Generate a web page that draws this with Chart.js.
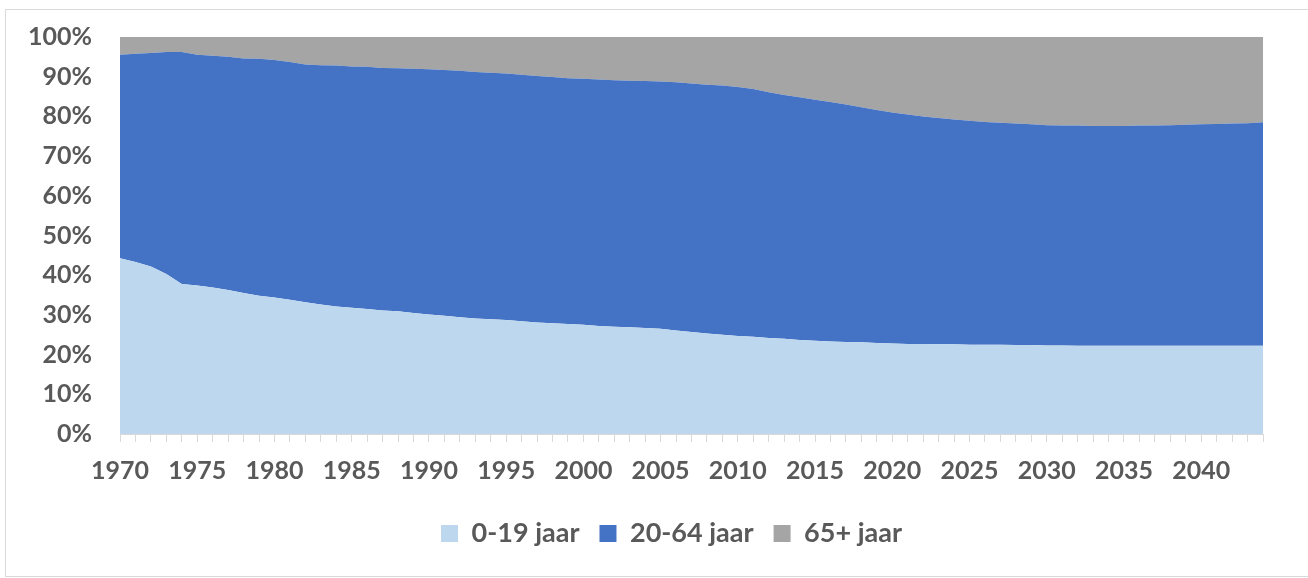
<!DOCTYPE html>
<html>
<head>
<meta charset="utf-8">
<script src="https://cdn.jsdelivr.net/npm/chart.js@4.4.1/dist/chart.umd.min.js"></script>
<style>
	body { margin: 0; background: #ffffff; }
	#frame {
		position: absolute;
		left: 5px;
		top: 9px;
		width: 1310px;
		height: 566px;
		border: 1px solid #d9d9d9;
	}
	#ageChart { position: absolute; left: 0; top: 0; }
</style>
</head>
<body>
<div id="frame"></div>
<canvas id="ageChart" width="1308" height="578"></canvas>
<script>
const years = [];
for (let y = 1970; y <= 2044; y++)
	years.push(String(y));

//share of the population per age group, in %
const young = [
	44.3, 43.3, 42.2, 40.3, 37.8, 37.4, 36.9, 36.3, 35.5, 34.8,
	34.4, 33.8, 33.2, 32.6, 32.1, 31.8, 31.5, 31.1, 30.9, 30.5,
	30.1, 29.8, 29.4, 29.1, 28.9, 28.7, 28.4, 28.1, 27.9, 27.7,
	27.5, 27.2, 27.0, 26.9, 26.7, 26.5, 26.1, 25.7, 25.3, 25.0,
	24.7, 24.5, 24.2, 24.0, 23.7, 23.5, 23.3, 23.2, 23.1, 22.9,
	22.8, 22.7, 22.7, 22.6, 22.6, 22.5, 22.5, 22.5, 22.4, 22.4,
	22.3, 22.3, 22.2, 22.2, 22.2, 22.2, 22.2, 22.2, 22.2, 22.2,
	22.2, 22.2, 22.2, 22.2, 22.2
];
const working = [
	51.2, 52.5, 53.8, 55.9, 58.4, 58.1, 58.4, 58.7, 59.1, 59.7,
	59.8, 59.9, 59.9, 60.3, 60.7, 60.8, 61.0, 61.1, 61.2, 61.5,
	61.8, 61.9, 62.1, 62.1, 62.1, 62.1, 62.1, 62.1, 62.0, 61.9,
	62.0, 62.1, 62.1, 62.1, 62.2, 62.3, 62.5, 62.6, 62.7, 62.8,
	62.7, 62.4, 61.9, 61.4, 61.1, 60.7, 60.3, 59.8, 59.2, 58.7,
	58.2, 57.8, 57.3, 57.0, 56.6, 56.4, 56.1, 55.9, 55.8, 55.6,
	55.5, 55.4, 55.5, 55.4, 55.4, 55.4, 55.5, 55.5, 55.6, 55.7,
	55.8, 55.9, 56.0, 56.1, 56.3
];
const elderly = [
	4.5, 4.2, 4.0, 3.8, 3.8, 4.5, 4.7, 5.0, 5.4, 5.5,
	5.8, 6.3, 6.9, 7.1, 7.2, 7.4, 7.5, 7.8, 7.9, 8.0,
	8.1, 8.3, 8.5, 8.8, 9.0, 9.2, 9.5, 9.8, 10.1, 10.4,
	10.5, 10.7, 10.9, 11.0, 11.1, 11.2, 11.4, 11.7, 12.0, 12.2,
	12.6, 13.1, 13.9, 14.6, 15.2, 15.8, 16.4, 17.0, 17.7, 18.4,
	19.0, 19.5, 20.0, 20.4, 20.8, 21.1, 21.4, 21.6, 21.8, 22.0,
	22.2, 22.3, 22.3, 22.4, 22.4, 22.4, 22.3, 22.3, 22.2, 22.1,
	22.0, 21.9, 21.8, 21.7, 21.5
];
const seriesNames = ['0-19 jaar', '20-64 jaar', '65+ jaar'];
const seriesColors = ['#bdd7ee', '#4472c4', '#a5a5a5'];

const textColor = '#595959';
const font = { family: 'Lato', size: 25, weight: 'bold' };
const legendFont = { family: 'Lato', size: 27, weight: 'bold' };

function makeDataset(i, values) {
	return {
		label: seriesNames[i],
		data: values,
		backgroundColor: seriesColors[i],
		borderColor: seriesColors[i],
		borderWidth: 0,
		pointRadius: 0,
		fill: i === 0 ? 'origin' : '-1',
		tension: 0,
	};
}

//the legend sits a bit right of the canvas centre in the reference
const legendShift = {
	id: 'legendShift',
	afterLayout(chart) {
		chart.legend.left += 40;
		chart.legend.right += 40;
	},
};

const canvas = document.getElementById('ageChart');
new Chart(canvas.getContext('2d'), {
	type: 'line',
	data: {
		labels: years,
		datasets: [
			makeDataset(0, young),
			makeDataset(1, working),
			makeDataset(2, elderly),
		],
	},
	plugins: [legendShift],
	options: {
		responsive: false,
		animation: false,
		layout: {
			padding: { left: 0, top: 37, right: 45, bottom: 21 },
		},
		plugins: {
			tooltip: { enabled: false },
			legend: {
				position: 'bottom',
				labels: {
					color: textColor,
					font: legendFont,
					boxWidth: 17,
					boxHeight: 17,
					padding: 20,
				},
			},
		},
		scales: {
			x: {
				offset: false,
				grid: {
					display: true,
					drawOnChartArea: false,
					drawTicks: true,
					tickLength: 8,
					color: '#d9d9d9',
				},
				border: { color: '#d9d9d9' },
				ticks: {
					autoSkip: false,
					maxRotation: 0,
					color: textColor,
					font: font,
					padding: 14,
					callback: function(value, index) {
						const year = Number(years[index]);
						return year % 5 === 0 ? years[index] : '';
					},
				},
				afterFit: function(scale) {
					scale.height = 66;
				},
			},
			y: {
				stacked: true,
				min: 0,
				max: 100,
				//invisible ticks give the gap between labels and plot
				grid: {
					display: true,
					drawOnChartArea: false,
					drawTicks: true,
					tickLength: 28,
					color: 'rgba(0,0,0,0)',
				},
				border: { display: false },
				ticks: {
					stepSize: 10,
					color: textColor,
					font: font,
					padding: 0,
					callback: function(value) {
						return value + '%';
					},
				},
				afterFit: function(scale) {
					scale.width = 120;
				},
			},
		},
	},
});
</script>
</body>
</html>
